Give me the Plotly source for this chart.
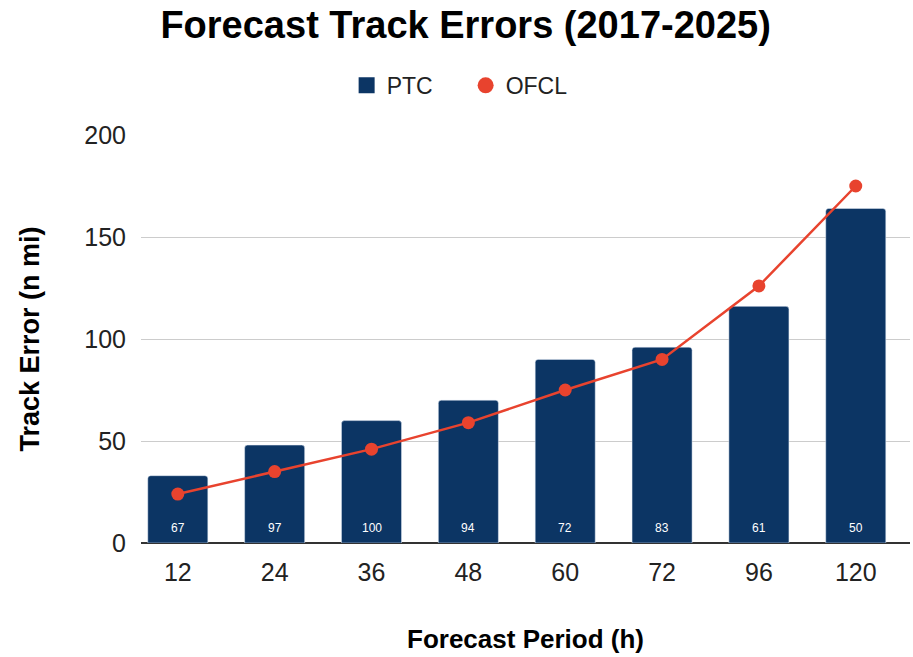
import plotly.graph_objects as go

periods = ["12", "24", "36", "48", "60", "72", "96", "120"]
ptc = [33, 48, 60, 70, 90, 96, 116, 164]
ofcl = [24, 35, 46, 59, 75, 90, 126, 175]
counts = [67, 97, 100, 94, 72, 83, 61, 50]

NAVY = "#0c3564"
RED = "#e8432e"
FONT = "Liberation Sans, Arial, sans-serif"

fig = go.Figure()
fig.add_trace(go.Bar(x=periods, y=ptc, name="PTC", marker=dict(color=NAVY, cornerradius=3),
                     width=0.62, showlegend=False))
fig.add_trace(go.Scatter(x=periods, y=ofcl, name="OFCL", mode="lines+markers",
                         line=dict(color=RED, width=2.5),
                         marker=dict(color=RED, size=13), showlegend=False))
# legend entries
fig.add_trace(go.Scatter(x=[None], y=[None], name="PTC", mode="markers",
                         marker=dict(color=NAVY, size=20, symbol="square")))
fig.add_trace(go.Scatter(x=[None], y=[None], name="OFCL", mode="markers",
                         marker=dict(color=RED, size=20, symbol="circle")))

for i, c in enumerate(counts):
    fig.add_annotation(x=i, y=0, text=str(c), showarrow=False, yanchor="bottom", yshift=6,
                       font=dict(color="white", size=12, family=FONT))

fig.update_layout(
    width=913, height=657,
    margin=dict(l=141, r=3, t=135, b=114, autoexpand=False),
    paper_bgcolor="white", plot_bgcolor="white",
    font=dict(family=FONT, color="#222"),
    title=dict(text="<b>Forecast Track Errors (2017-2025)</b>", x=0.51, xref="container",
               xanchor="center", y=0.962, yref="container", yanchor="middle",
               font=dict(size=38, color="#000", family=FONT)),
    legend=dict(orientation="h", x=0.51, xref="container", xanchor="center",
                y=0.87, yref="container", yanchor="middle",
                entrywidth=74, entrywidthmode="pixels",
                font=dict(size=23, color="#222"), traceorder="normal"),
)
fig.update_xaxes(type="category", range=[-0.38, 7.56], showgrid=False, ticks="",
                 tickfont=dict(size=25, color="#222"), ticklabelstandoff=12,
                 title=dict(text="<b>Forecast Period (h)</b>", font=dict(size=26, color="#000"), standoff=44))
fig.update_yaxes(range=[0, 200], tickvals=[0, 50, 100, 150, 200], showgrid=True, gridcolor="#cccccc",
                 gridwidth=1, zeroline=True, zerolinecolor="#333", zerolinewidth=1.5,
                 tickfont=dict(size=25, color="#222"), ticks="", ticklabelstandoff=14,
                 title=dict(text="<b>Track Error (n mi)</b>", font=dict(size=27, color="#000"), standoff=36))

fig.write_html("out.html", config={"displayModeBar": False},
               post_script="document.body.style.margin='0';")
